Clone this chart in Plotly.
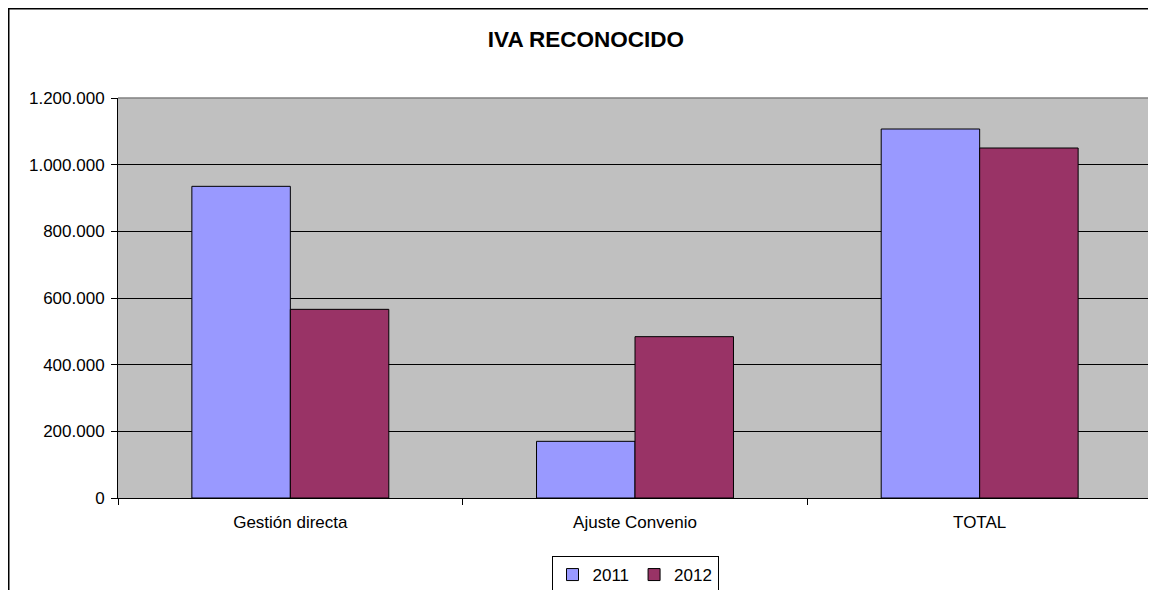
import plotly.graph_objects as go

categories = ["Gestión directa", "Ajuste Convenio", "TOTAL"]
values_2011 = [935000, 170000, 1107000]
values_2012 = [566000, 484000, 1050000]
series_names = ["2011", "2012"]
y_ticks = [0, 200000, 400000, 600000, 800000, 1000000, 1200000]

FONT = "Liberation Sans, Arial, sans-serif"

# page has an 8px body margin; figure pixel = page pixel - 8
W, H = 1148, 620
L, T, PW, PH = 110, 90, 1034, 400

fig = go.Figure()
fig.add_trace(go.Bar(x=categories, y=values_2011, name=series_names[0],
                     marker=dict(color="#9999FF", line=dict(color="#000000", width=1))))
fig.add_trace(go.Bar(x=categories, y=values_2012, name=series_names[1],
                     marker=dict(color="#993366", line=dict(color="#000000", width=1))))

fig.update_layout(
    width=W, height=H,
    margin=dict(l=L, r=W - L - PW, t=T, b=H - T - PH, autoexpand=False),
    paper_bgcolor="white",
    plot_bgcolor="#C0C0C0",
    separators=",.",
    barmode="group",
    bargap=0.4286,
    bargroupgap=0,
    font=dict(family=FONT, size=16, color="black"),
    title=dict(text="<b>IVA RECONOCIDO</b>", x=(586 - 118) / PW, xref="paper",
               xanchor="center", y=1 - 31 / H, yanchor="middle",
               font=dict(family=FONT, size=22.5, color="black")),
    legend=dict(orientation="h", x=0.5, xanchor="center", y=-58 / PH, yanchor="top",
                bordercolor="black", borderwidth=1, bgcolor="white",
                font=dict(family=FONT, size=17), itemwidth=30,
                tracegroupgap=0, itemclick=False),
    showlegend=True,
)

fig.update_xaxes(
    type="category", showline=True, linecolor="black", linewidth=1,
    ticks="outside", tickson="boundaries", ticklen=6, tickcolor="black",
    showgrid=False, tickfont=dict(family=FONT, size=17), zeroline=False,
    ticklabelstandoff=9,
)
fig.update_yaxes(
    range=[0, 1200000], tickvals=y_ticks, tickformat=",d",
    showline=True, linecolor="black", linewidth=1,
    ticks="outside", ticklen=6, tickcolor="black",
    showgrid=True, gridcolor="black", gridwidth=1, zeroline=False,
    tickfont=dict(family=FONT, size=17), ticklabelstandoff=3,
)

# plot-area gray border (top and right) and outer chart border
fig.add_shape(type="line", xref="paper", yref="paper", x0=0, x1=1, y0=1, y1=1,
              line=dict(color="#808080", width=1.5), layer="above")
fig.add_shape(type="line", xref="paper", yref="paper", x0=1, x1=1, y0=0, y1=1,
              line=dict(color="#808080", width=1.5), layer="above")
fig.add_shape(type="rect", xref="paper", yref="paper",
              x0=(0.75 - L) / PW, x1=1.2, y0=-0.6, y1=(T + PH - 0.75) / PH,
              line=dict(color="black", width=1.5), layer="above")

fig.write_html("out.html")
